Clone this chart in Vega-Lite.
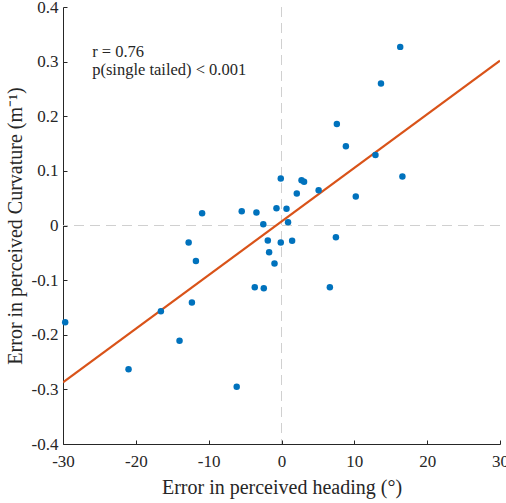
{
  "$schema": "https://vega.github.io/schema/vega-lite/v6.json",
  "width": 437,
  "height": 437,
  "autosize": "none",
  "padding": {"left": 63, "top": 7, "right": 6, "bottom": 59},
  "background": "white",
  "config": {
    "view": {"stroke": null},
    "font": "Liberation Serif",
    "axis": {
      "labelFont": "Liberation Serif",
      "titleFont": "Liberation Serif",
      "labelFontSize": 17,
      "titleFontSize": 20,
      "titleFontWeight": "normal",
      "labelColor": "#262626",
      "titleColor": "#262626",
      "domainColor": "#262626",
      "tickColor": "#262626",
      "grid": false,
      "tickSize": -4,
      "labelFlush": false,
      "labelOverlap": false
    }
  },
  "datasets": {
    "pts": [
      {"heading": -29.7, "curv": -0.177},
      {"heading": -21.0, "curv": -0.263},
      {"heading": -16.56, "curv": -0.157},
      {"heading": -14.0, "curv": -0.211},
      {"heading": -12.3, "curv": -0.141},
      {"heading": -12.75, "curv": -0.031},
      {"heading": -11.75, "curv": -0.065},
      {"heading": -10.9, "curv": 0.0225},
      {"heading": -6.15, "curv": -0.295},
      {"heading": -5.46, "curv": 0.026},
      {"heading": -3.44, "curv": 0.024},
      {"heading": -3.67, "curv": -0.113},
      {"heading": -2.43, "curv": -0.115},
      {"heading": -2.5, "curv": 0.0024},
      {"heading": -1.88, "curv": -0.0274},
      {"heading": -1.7, "curv": -0.049},
      {"heading": -0.96, "curv": -0.0695},
      {"heading": -0.69, "curv": 0.0317},
      {"heading": -0.1, "curv": -0.031},
      {"heading": 0.69, "curv": 0.0305},
      {"heading": 0.9, "curv": 0.006},
      {"heading": 1.46, "curv": -0.028},
      {"heading": -0.1, "curv": 0.086},
      {"heading": 2.75, "curv": 0.083},
      {"heading": 3.1, "curv": 0.080},
      {"heading": 2.1, "curv": 0.0585},
      {"heading": 5.1, "curv": 0.0646},
      {"heading": 7.47, "curv": -0.0214},
      {"heading": 6.64, "curv": -0.113},
      {"heading": 7.6, "curv": 0.186},
      {"heading": 8.84, "curv": 0.145},
      {"heading": 10.2, "curv": 0.053},
      {"heading": 12.9, "curv": 0.129},
      {"heading": 13.66, "curv": 0.26},
      {"heading": 16.3, "curv": 0.327},
      {"heading": 16.6, "curv": 0.0896}
    ],
    "fit": [
      {"heading": -30, "curv": -0.287},
      {"heading": 30, "curv": 0.302}
    ],
    "notes": [
      {"heading": -26, "curv": 0.318, "label": "r = 0.76"},
      {"heading": -26, "curv": 0.285, "label": "p(single tailed) < 0.001"}
    ]
  },
  "layer": [
    {
      "data": {"values": [{"v": 0}]},
      "mark": {"type": "rule", "color": "#d0d0d0", "strokeDash": [10, 6], "strokeWidth": 1},
      "encoding": {
        "x": {"datum": 0, "type": "quantitative", "scale": {"domain": [-30, 30]}}
      }
    },
    {
      "data": {"values": [{"v": 0}]},
      "mark": {"type": "rule", "color": "#d0d0d0", "strokeDash": [10, 6], "strokeWidth": 1},
      "encoding": {
        "y": {"datum": 0, "type": "quantitative", "scale": {"domain": [-0.4, 0.4]}}
      }
    },
    {
      "data": {"name": "fit"},
      "mark": {"type": "line", "color": "#D95319", "strokeWidth": 2.2, "clip": true},
      "encoding": {
        "x": {"field": "heading", "type": "quantitative"},
        "y": {"field": "curv", "type": "quantitative"}
      }
    },
    {
      "data": {"name": "pts"},
      "mark": {"type": "circle", "color": "#0072BD", "opacity": 1, "size": 42},
      "encoding": {
        "x": {
          "field": "heading",
          "type": "quantitative",
          "scale": {"domain": [-30, 30], "nice": false, "zero": false},
          "axis": {
            "title": "Error in perceived heading (°)",
            "values": [-30, -20, -10, 0, 10, 20, 30],
            "labelExpr": "replace(format(datum.value, '~g'), '−', '-')",
            "labelPadding": 13,
            "titlePadding": 8
          }
        },
        "y": {
          "field": "curv",
          "type": "quantitative",
          "scale": {"domain": [-0.4, 0.4], "nice": false, "zero": false},
          "axis": {
            "title": "Error in perceived Curvature (m⁻¹)",
            "values": [-0.4, -0.3, -0.2, -0.1, 0, 0.1, 0.2, 0.3, 0.4],
            "labelExpr": "replace(format(datum.value, '~g'), '−', '-')",
            "labelPadding": 9,
            "titlePadding": 6
          }
        }
      }
    },
    {
      "data": {"name": "notes"},
      "mark": {"type": "text", "align": "left", "baseline": "middle", "fontSize": 16.5, "color": "#262626", "font": "Liberation Serif"},
      "encoding": {
        "x": {"field": "heading", "type": "quantitative"},
        "y": {"field": "curv", "type": "quantitative"},
        "text": {"field": "label"}
      }
    }
  ]
}
